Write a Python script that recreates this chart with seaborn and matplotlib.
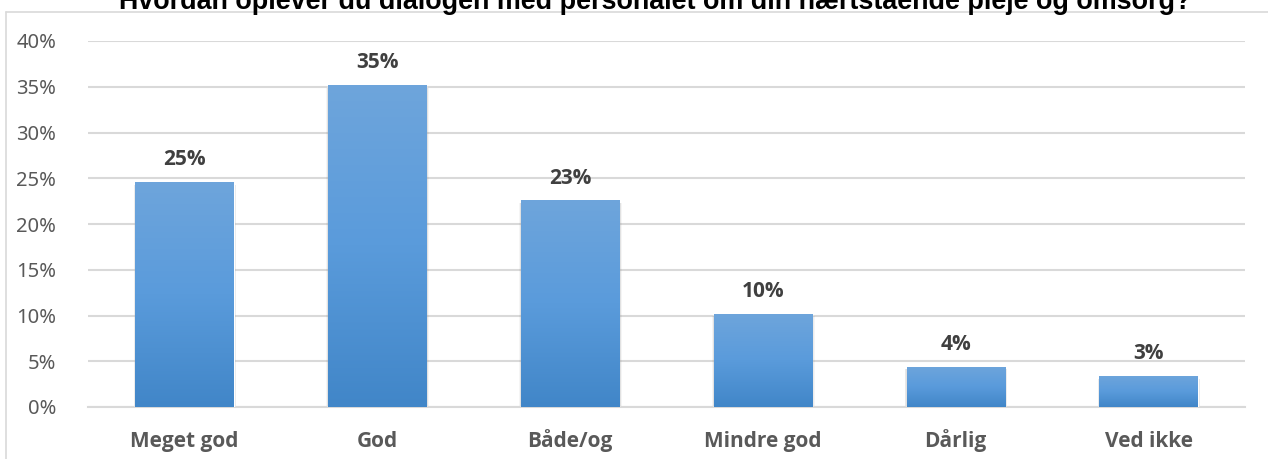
import matplotlib
matplotlib.use("Agg")
import matplotlib.pyplot as plt
import seaborn as sns
import numpy as np
import pandas as pd
from matplotlib.lines import Line2D
from matplotlib.colors import LinearSegmentedColormap
from matplotlib.patches import Rectangle

categories = ["Meget god", "God", "Både/og", "Mindre god", "Dårlig", "Ved ikke"]
values = [0.246, 0.352, 0.226, 0.102, 0.044, 0.034]
labels = ["25%", "35%", "23%", "10%", "4%", "3%"]
yticks = [0, 0.05, 0.10, 0.15, 0.20, 0.25, 0.30, 0.35, 0.40]
ytick_labels = ["0%", "5%", "10%", "15%", "20%", "25%", "30%", "35%", "40%"]
title = "Hvordan oplever du dialogen med personalet om din nærtstående pleje og omsorg?"

sns.set_style("white")
plt.rcParams['font.family'] = ['Open Sans', 'DejaVu Sans']

W, H = 1268, 459
fig = plt.figure(figsize=(W / 100, H / 100), dpi=100)
ax = fig.add_axes([88 / W, 1 - 407 / H, (1245 - 88) / W, (407 - 41) / H])

df = pd.DataFrame({"cat": categories, "val": values})
sns.barplot(data=df, x="cat", y="val", ax=ax, color="#5b9bd5", width=0.51,
            saturation=1, zorder=3)

ax.set_ylim(0, 0.40)
ax.set_yticks(yticks)
ax.set_yticklabels(ytick_labels)
ax.set_xlabel("")
ax.set_ylabel("")
ax.grid(axis="y", color="#d9d9d9", linewidth=1.5, zorder=0)
for s in ["top", "right", "left"]:
    ax.spines[s].set_visible(False)
ax.spines["bottom"].set_color("#d9d9d9")
ax.spines["bottom"].set_linewidth(1.5)
ax.tick_params(axis="y", length=0, pad=23, labelcolor="#595959")
ax.tick_params(axis="x", length=0, pad=29, labelcolor="#595959")
for t in ax.get_yticklabels():
    t.set_fontfamily(["Noto Sans", "DejaVu Sans"])
    t.set_fontsize(14.5)
for t in ax.get_xticklabels():
    t.set_fontweight("bold")
    t.set_fontsize(15)
    t.set_verticalalignment("baseline")

cmap = LinearSegmentedColormap.from_list("g", ["#4186c8", "#5a9bdb", "#6ea5dc"])
grad = np.linspace(0, 1, 256).reshape(-1, 1)
for p, lab in zip(ax.patches, labels):
    x0, w, h = p.get_x(), p.get_width(), p.get_height()
    # soft shadow
    for i, a in enumerate([0.06, 0.05, 0.04]):
        d = 0.006 * (i + 1)
        ax.add_patch(Rectangle((x0 - d * 0.5, -0.003 - d * 0.05), w + 2 * d * 0.5 + 0.004, h + d * 0.05,
                               facecolor="black", alpha=a, edgecolor="none", zorder=2.5))
    im = ax.imshow(grad, cmap=cmap, extent=[x0, x0 + w, 0, h], origin="lower",
                   aspect="auto", zorder=3.5)
    im.set_clip_path(p)
    ax.annotate(lab, (x0 + w / 2, h), xytext=(0, 12), textcoords="offset points",
                ha="center", va="baseline", fontsize=15, fontweight="bold", color="#404040")
ax.set_xlim(-0.5, len(categories) - 0.5)
ax.set_ylim(0, 0.40)

# chart border (top and left visible)
fig.add_artist(Line2D([6 / W, 6 / W], [0, 1 - 11.5 / H], color="#d9d9d9", lw=1.2))
fig.add_artist(Line2D([6 / W, 1], [1 - 11.5 / H, 1 - 11.5 / H], color="#d9d9d9", lw=1.2))

fig.text(655 / W, 1 - 9 / H, title, ha="center", va="baseline", fontsize=19.4,
         fontweight="bold", color="black", family=["Liberation Sans", "DejaVu Sans"])

fig.savefig("out.png", dpi=100)
